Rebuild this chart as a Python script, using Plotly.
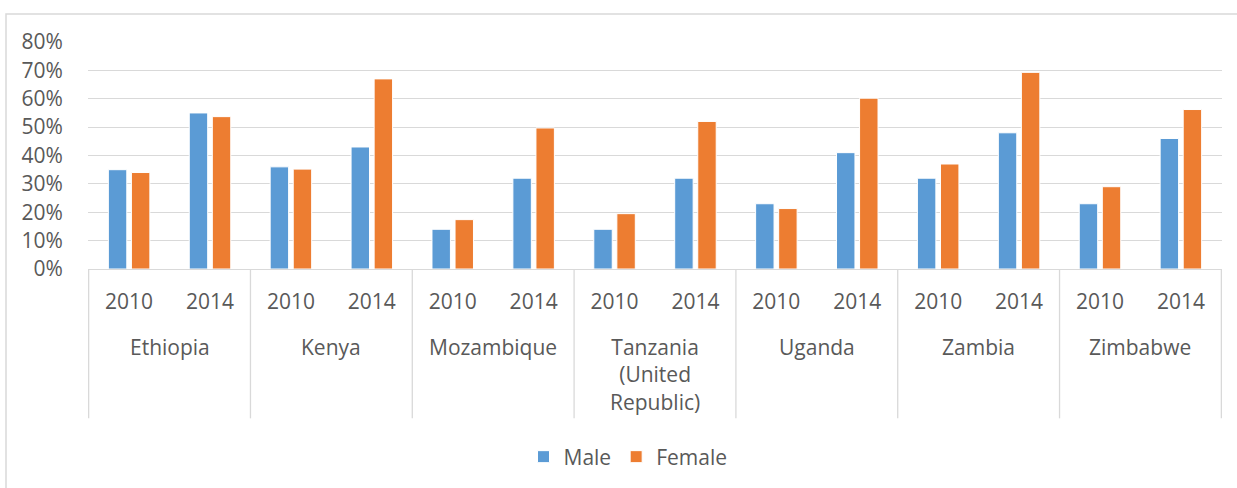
import plotly.graph_objects as go

countries = ["Ethiopia", "Kenya", "Mozambique", "Tanzania<br>(United<br>Republic)",
             "Uganda", "Zambia", "Zimbabwe"]
years = ["2010", "2014"]
male = [0.35, 0.55, 0.36, 0.43, 0.14, 0.32, 0.14, 0.32, 0.23, 0.41, 0.32, 0.48, 0.23, 0.46]
female = [0.34, 0.537, 0.352, 0.67, 0.174, 0.497, 0.195, 0.52, 0.213, 0.602, 0.37, 0.693, 0.29, 0.562]
y_ticks = [0, 0.1, 0.2, 0.3, 0.4, 0.5, 0.6, 0.7, 0.8]

# unique category keys, year shown as tick text
cats = [f"{i}|{y}" for i, _ in enumerate(countries) for y in years]
tick_text = [y for _ in countries for y in years]
n_years = len(years)

FONT = "Open Sans"
TXT = "#595959"
GRID = "#D9D9D9"
FS = 21

fig = go.Figure()
fig.add_trace(go.Bar(x=cats, y=male, name="Male",
                     marker=dict(color="#5B9BD5", line=dict(color="#FFFFFF", width=1))))
fig.add_trace(go.Bar(x=cats, y=female, name="Female",
                     marker=dict(color="#ED7D31", line=dict(color="#FFFFFF", width=1))))

W, H = 1237, 488
L, R, T, B = 88, 15, 42, 218
pw, ph = W - L - R, H - T - B

def px_x(x):
    return (x - L) / pw

def px_y(y):
    return (H - B - y) / ph

shapes = [dict(type="rect", xref="paper", yref="paper",
               x0=px_x(6), x1=px_x(1250), y0=px_y(500), y1=px_y(14),
               line=dict(color=GRID, width=1.5), fillcolor="rgba(0,0,0,0)", layer="below")]
# group dividers under the category axis
for g in range(len(countries) + 1):
    xb = g * n_years - 0.5
    shapes.append(dict(type="line", xref="x", yref="paper", x0=xb, x1=xb,
                       y0=0, y1=px_y(420), line=dict(color=GRID, width=1.3)))

annotations = []
for g, c in enumerate(countries):
    xc = g * n_years + (n_years - 1) / 2
    annotations.append(dict(x=xc, xref="x", y=px_y(332), yref="paper", yanchor="top",
                            text=c, showarrow=False, align="center",
                            font=dict(family=FONT, size=FS, color=TXT)))

fig.update_layout(
    width=W, height=H,
    margin=dict(l=L, r=R, t=T, b=B),
    paper_bgcolor="white", plot_bgcolor="white",
    font=dict(family=FONT, size=FS, color=TXT),
    barmode="group", bargap=0.43, bargroupgap=0.2,
    showlegend=True,
    legend=dict(orientation="h", x=px_x(628), xanchor="center", y=px_y(457), yanchor="middle",
                font=dict(size=FS, color=TXT), itemwidth=30, traceorder="normal"),
    xaxis=dict(type="category", categoryorder="array", categoryarray=cats,
               tickvals=cats, ticktext=tick_text,
               showline=True, linecolor=GRID, linewidth=1.3,
               showgrid=False, ticks="outside", ticklen=14, tickcolor="rgba(0,0,0,0)",
               tickfont=dict(size=FS, color=TXT), automargin=False),
    yaxis=dict(range=[0, 0.8], tickvals=y_ticks, tickformat=".0%", showgrid=True,
               gridcolor=GRID, gridwidth=1.3, zeroline=False, showline=False,
               ticks="outside", ticklen=20, tickcolor="rgba(0,0,0,0)",
               tickfont=dict(size=FS, color=TXT), automargin=False),
    shapes=shapes,
    annotations=annotations,
)

fig.write_html("out.html", config={"displayModeBar": False},
               post_script="document.body.style.margin='0';")
